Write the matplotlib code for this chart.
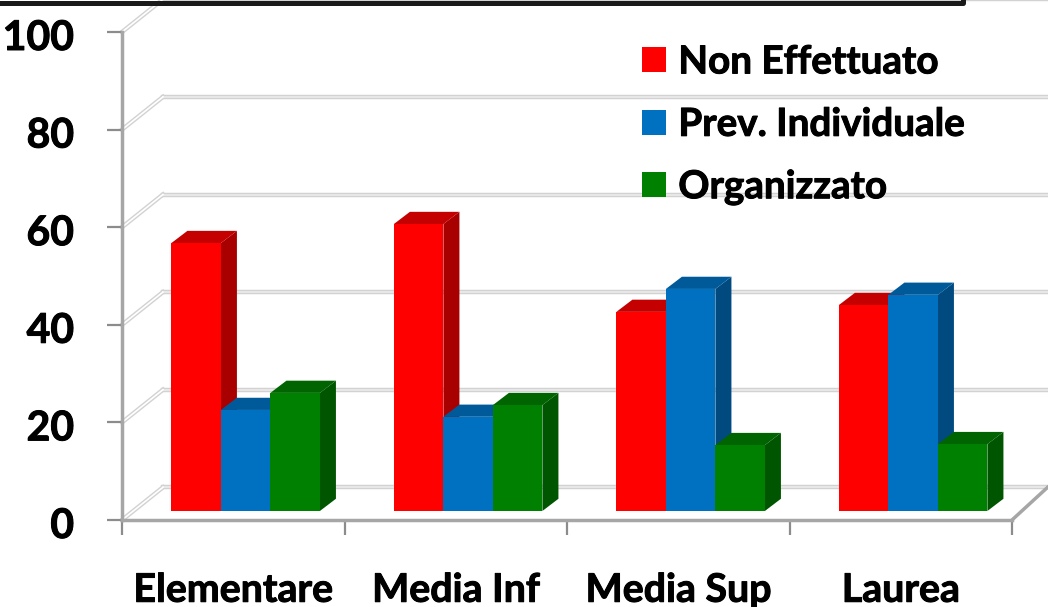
import matplotlib
matplotlib.use("Agg")
import matplotlib.pyplot as plt
import matplotlib.patheffects as pe
from matplotlib.lines import Line2D
from matplotlib.transforms import ScaledTranslation

plt.rcParams["font.family"] = ["Lato", "DejaVu Sans"]
plt.rcParams["font.weight"] = "bold"

# Data
categories = ["Elementare", "Media Inf", "Media Sup", "Laurea"]
non_effettuato = [54.9, 58.8, 40.8, 42.2]
prev_individuale = [20.7, 19.3, 45.5, 44.3]
organizzato = [24.2, 21.7, 13.5, 13.7]
y_ticks = [0, 20, 40, 60, 80, 100]

series = [
    ("Non Effettuato", non_effettuato, "#ff0000", "#a80000", "#c40000"),
    ("Prev. Individuale", prev_individuale, "#0070c0", "#004a80", "#005a9a"),
    ("Organizzato", organizzato, "#008000", "#005500", "#006400"),
]

W, H = 1048, 607
fig = plt.figure(figsize=(W / 100, H / 100), dpi=100)
ax = fig.add_axes([122 / W, (H - 520) / H, (1012 - 122) / W, (520 - 32) / H])
ax.set_xlim(0, 4)
ax.set_ylim(0, 100)
ax.patch.set_alpha(0)

# Depth of the fake 3D box and of the bars, in data units
wall_dx, wall_dy = 0.184, 6.7
bar_dx, bar_dy = 0.072, 2.5
bar_base = 1.85
bar_w = 0.2225
group_off = 0.222
x_right = 4.16

# Back wall gridlines and the diagonals on the side wall
for t in y_ticks:
    y = t + wall_dy
    ax.plot([wall_dx, x_right], [y, y], color="#d2d2d2", lw=3.2, clip_on=False, zorder=1)
    ax.plot([wall_dx, x_right], [y, y], color="#ececec", lw=1.2, clip_on=False, zorder=1.1)
    ax.plot([0, wall_dx], [t, y], color="#d2d2d2", lw=3.2, clip_on=False, zorder=1)
    ax.plot([0, wall_dx], [t, y], color="#ffffff", lw=1.2, clip_on=False, zorder=1.1)

# Floor edge on the right
ax.plot([4, x_right], [0, wall_dy], color="#a6a6a6", lw=2.5, clip_on=False, zorder=2)

# Bars: front face with the library, side and top faces as polygons
for j, (name, vals, front, side, top) in enumerate(series):
    lefts = [i + group_off + j * bar_w for i in range(len(categories))]
    for x0, v in zip(lefts, vals):
        y1 = bar_base + v
        ax.fill([x0 + bar_w, x0 + bar_w + bar_dx, x0 + bar_w + bar_dx, x0 + bar_w],
                [bar_base, bar_base + bar_dy, y1 + bar_dy, y1],
                color=side, lw=0, zorder=3 + j)
        ax.fill([x0, x0 + bar_dx, x0 + bar_w + bar_dx, x0 + bar_w],
                [y1, y1 + bar_dy, y1 + bar_dy, y1],
                color=top, lw=0, zorder=3 + j)
    ax.bar(lefts, vals, width=bar_w, bottom=bar_base, align="edge",
           color=front, lw=0, label=name, zorder=3.5 + j)

# Axes
for s in ["top", "right"]:
    ax.spines[s].set_visible(False)
for s in ["left", "bottom"]:
    ax.spines[s].set_color("#a6a6a6")
    ax.spines[s].set_linewidth(2.5)
ax.set_xticks([0, 1, 2, 3, 4])
ax.set_xticklabels([])
ax.set_yticks(y_ticks)
ax.tick_params(axis="y", length=11, width=1.6, color="#8c8c8c", labelsize=29.5, pad=23.5)
ax.tick_params(axis="x", length=11, width=1.6, color="#8c8c8c")
ax.set_xticks([i + 0.5 for i in range(4)], minor=True)
ax.set_xticklabels(categories, minor=True, fontsize=28.3)
ax.tick_params(axis="x", which="minor", length=0, pad=38)

leg = ax.legend(frameon=False, loc="upper left", bbox_to_anchor=(632 / W, (H - 34) / H),
                bbox_transform=fig.transFigure, fontsize=27.8, handlelength=0.62,
                handleheight=0.62, handletextpad=0.31, labelspacing=0.71,
                borderpad=0.27, borderaxespad=0)

# The source text looks a bit heavier than Lato Bold
stroke = [pe.withStroke(linewidth=0.7, foreground="black")]
for t in ax.get_yticklabels() + ax.get_xticklabels(minor=True) + leg.get_texts():
    t.set_path_effects(stroke)

# y labels sit about 3 px under their ticks in the source
down = ScaledTranslation(0, -3 / 100, fig.dpi_scale_trans)
for t in ax.get_yticklabels():
    t.set_transform(t.get_transform() + down)

# Black frame cut off at the top of the slide
fig.add_artist(Line2D([0, 963 / W, 963 / W], [(H - 3) / H, (H - 3) / H, 1],
                      transform=fig.transFigure, color="#1a1a1a", lw=3.6))

fig.savefig("out.png", dpi=100)
